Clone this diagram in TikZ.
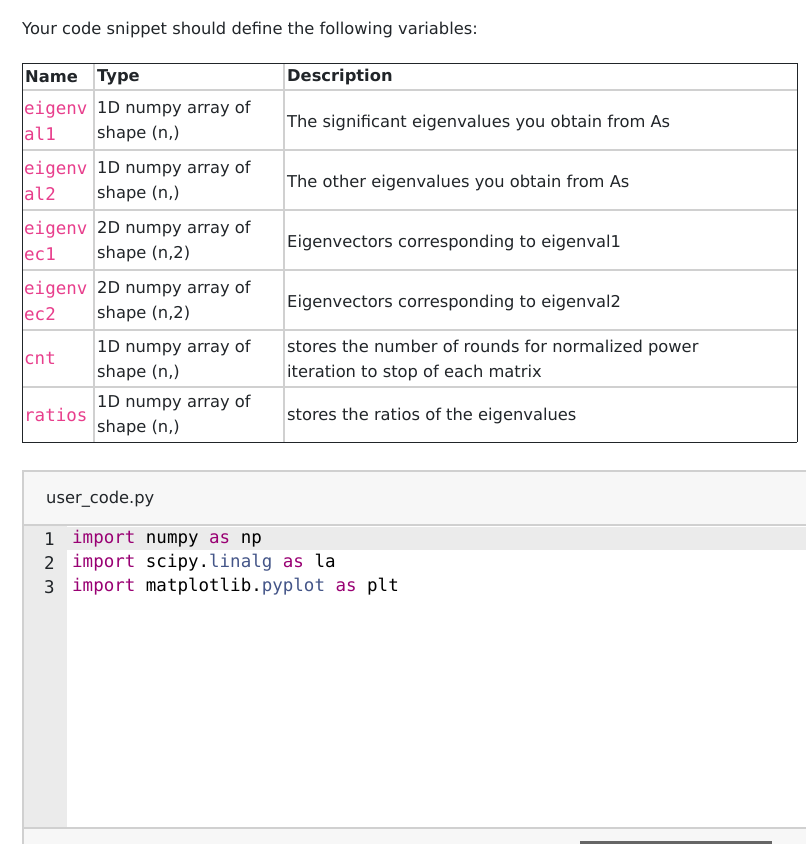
\documentclass[tikz,border=0pt]{standalone}
\usepackage{fontspec}
\setmainfont{DejaVu Sans}
\setmonofont{DejaVu Sans Mono}
\definecolor{pinkc}{HTML}{E83E8C}
\definecolor{kw}{HTML}{990073}
\definecolor{mod}{HTML}{445588}
\definecolor{txt}{HTML}{212529}
\definecolor{gridc}{HTML}{D0D0D0}
\definecolor{panel}{HTML}{F7F7F7}
\definecolor{gut}{HTML}{EBEBEB}
\begin{document}
\begin{tikzpicture}[x=1pt,y=-1pt,
  body/.style={anchor=west,inner sep=0,text=txt,font=\fontsize{16.3}{25}\selectfont,align=left},
  nm/.style={anchor=west,inner sep=0,text=pinkc,font=\ttfamily\fontsize{17.5}{26}\selectfont,align=left},
  hd/.style={anchor=west,inner sep=0,text=txt,font=\bfseries\fontsize{16.3}{22}\selectfont},
  code/.style={anchor=west,inner sep=0,font=\ttfamily\fontsize{17.5}{22}\selectfont},
  grid/.style={draw=gridc,line width=1.5pt}]
\useasboundingbox (0,0) rectangle (806,844);
\fill[white] (0,0) rectangle (806,844);
\node[body] (title) at (22,30) {Your code snippet should define the following variables:};
% table grid
\foreach \yy in {90,150,210,270,330,387} \draw[grid] (22,\yy) -- (797,\yy);
\draw[grid] (94,63) -- (94,442);
\draw[grid] (284,63) -- (284,442);
\draw[line width=1pt,txt] (22,63) -- (797,63);
\draw[line width=1pt,txt] (22,442) -- (797,442);
\draw[line width=1pt,txt] (22,63) -- (22,442);
\draw[line width=1pt,txt] (797,63) -- (797,442);
\node[hd] (h1) at (25,77) {Name};
\node[hd] (h2) at (97,77) {Type};
\node[hd] (h3) at (287,77) {Description};
\node[nm] (n1) at (24,121) {eigenv\\al1};
\node[body] (t1) at (97,121) {1D numpy array of\\shape (n,)};
\node[body] (d1) at (287,123) {The significant eigenvalues you obtain from As};
\node[nm] (n2) at (24,181) {eigenv\\al2};
\node[body] (t2) at (97,181) {1D numpy array of\\shape (n,)};
\node[body] (d2) at (287,183) {The other eigenvalues you obtain from As};
\node[nm] (n3) at (24,241) {eigenv\\ec1};
\node[body] (t3) at (97,241) {2D numpy array of\\shape (n,2)};
\node[body] (d3) at (287,243) {Eigenvectors corresponding to eigenval1};
\node[nm] (n4) at (24,301) {eigenv\\ec2};
\node[body] (t4) at (97,301) {2D numpy array of\\shape (n,2)};
\node[body] (d4) at (287,303) {Eigenvectors corresponding to eigenval2};
\node[nm] (n5) at (24,358) {cnt};
\node[body] (t5) at (97,360) {1D numpy array of\\shape (n,)};
\node[body] (d5) at (287,360) {stores the number of rounds for normalized power\\iteration to stop of each matrix};
\node[nm] (n6) at (24,415) {ratios};
\node[body] (t6) at (97,415) {1D numpy array of\\shape (n,)};
\node[body] (d6) at (287,416) {stores the ratios of the eigenvalues};
% editor
\fill[panel] (23,471) rectangle (806,844);
\fill[white] (67,526) rectangle (806,827);
\fill[gut] (23,526) rectangle (67,827);
\fill[gut] (23,527) rectangle (806,550);
\draw[gridc,line width=1.5pt] (806,471) -- (23,471) -- (23,844);
\draw[gridc,line width=1.5pt] (23,525) -- (806,525);
\draw[gridc,line width=1.5pt] (23,828) -- (806,828);
\fill[gray!80!black] (580,841) rectangle (772,846);
\node[body] (fname) at (46,499) {user\_code.py};
\node[code,text=txt] (l1) at (44,539) {1};
\node[code,text=txt] (l2) at (44,563) {2};
\node[code,text=txt] (l3) at (44,587) {3};
\node[code] (c1) at (72,539) {\textcolor{kw}{import} numpy \textcolor{kw}{as} np};
\node[code] (c2) at (72,563) {\textcolor{kw}{import} scipy.\textcolor{mod}{linalg} \textcolor{kw}{as} la};
\node[code] (c3) at (72,587) {\textcolor{kw}{import} matplotlib.\textcolor{mod}{pyplot} \textcolor{kw}{as} plt};
\end{tikzpicture}
\end{document}
